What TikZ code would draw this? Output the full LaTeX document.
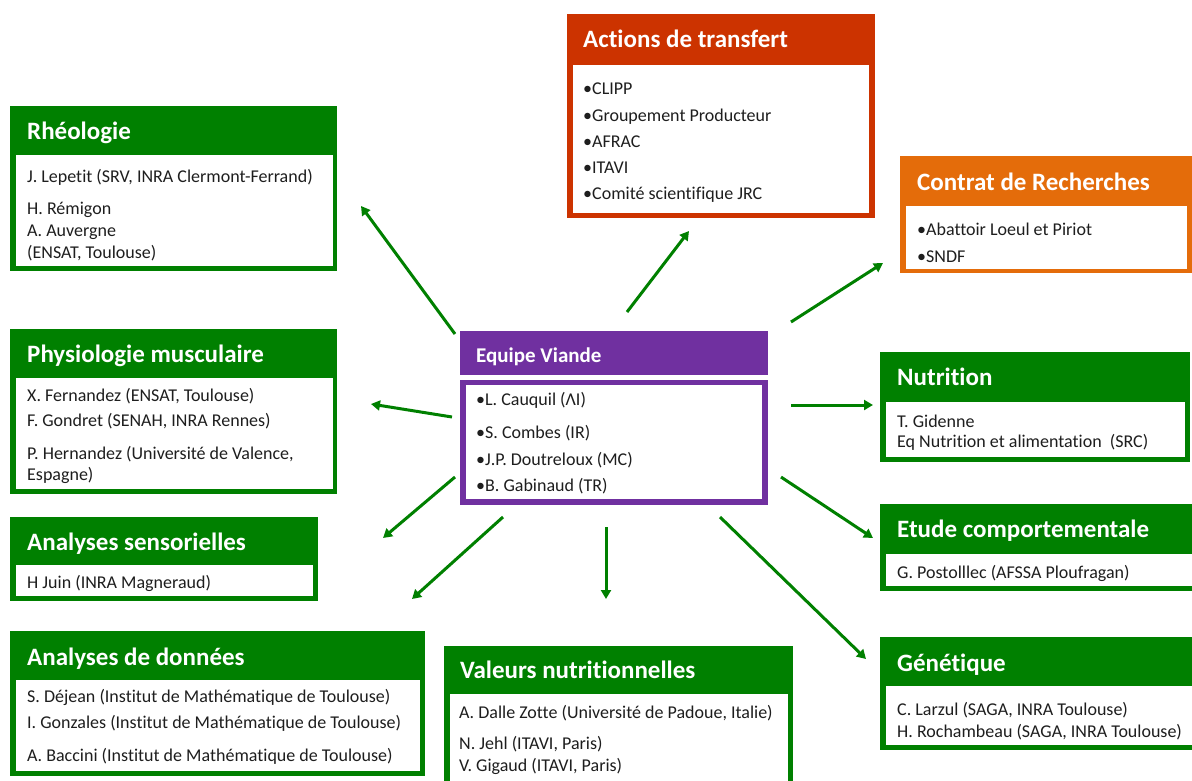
\documentclass[tikz,border=0pt]{standalone}
\usepackage{fontspec}
\setmainfont{Carlito}[Ligatures=NoCommon]
\usetikzlibrary{arrows.meta}
\definecolor{grn}{RGB}{0,128,0}
\definecolor{redo}{RGB}{204,51,0}
\definecolor{ora}{RGB}{228,108,10}
\definecolor{pur}{RGB}{112,48,160}
\definecolor{txt}{RGB}{30,30,30}
\tikzset{
  outerbox/.style={anchor=north west, inner sep=0, outer sep=0, draw=none},
  innerbox/.style={anchor=north west, inner sep=0, outer sep=0, fill=white, draw=none},
  ttl/.style={anchor=west, inner sep=0, text=white, font=\fontsize{25}{29}\selectfont\bfseries, text height=19pt, text depth=3pt},
  ln/.style={anchor=west, inner sep=0, text=txt, font=\fontsize{18}{22}\selectfont, text height=15pt, text depth=2pt},
  arr/.style={draw=grn, line width=3pt, -{Triangle[length=9pt,width=10pt]}}
}
\begin{document}
\begin{tikzpicture}[x=1pt,y=-1pt]
\useasboundingbox (0,0) rectangle (1192,780);
% ---------- Rheologie
\node[outerbox, fill=grn, minimum width=327pt, minimum height=165pt] (rheo) at (10,106) {};
\node[innerbox, minimum width=317pt, minimum height=111pt] (rheoi) at (16,155) {};
\node[ttl] (rheot) at (27,131) {Rhéologie};
\node[ln] (rheo1) at (27,176) {J. Lepetit (SRV, INRA Clermont-Ferrand)};
\node[ln] (rheo2) at (27,208) {H. Rémigon};
\node[ln] (rheo3) at (27,230) {A. Auvergne};
\node[ln] (rheo4) at (27,252) {(ENSAT, Toulouse)};
% ---------- Physiologie
\node[outerbox, fill=grn, minimum width=327pt, minimum height=165pt] (phys) at (10,329) {};
\node[innerbox, minimum width=317pt, minimum height=111pt] (physi) at (16,378) {};
\node[ttl] (physt) at (27,354) {Physiologie musculaire};
\node[ln] (phys1) at (27,395) {X. Fernandez (ENSAT, Toulouse)};
\node[ln] (phys2) at (27,420) {F. Gondret (SENAH, INRA Rennes)};
\node[ln] (phys3) at (27,453) {P. Hernandez (Université de Valence,};
\node[ln] (phys4) at (27,474) {Espagne)};
% ---------- Analyses sensorielles
\node[outerbox, fill=grn, minimum width=308pt, minimum height=84pt] (sens) at (10,517) {};
\node[innerbox, minimum width=297pt, minimum height=31pt] (sensi) at (16,565) {};
\node[ttl] (senst) at (27,542) {Analyses sensorielles};
\node[ln] (sens1) at (27,582) {H Juin (INRA Magneraud)};
% ---------- Analyses de donnees
\node[outerbox, fill=grn, minimum width=415pt, minimum height=145pt] (don) at (10,631) {};
\node[innerbox, minimum width=404pt, minimum height=91pt] (doni) at (16,680) {};
\node[ttl] (dont) at (27,657) {Analyses de données};
\node[ln] (don1) at (27,696) {S. Déjean (Institut de Mathématique de Toulouse)};
\node[ln] (don2) at (27,722) {I. Gonzales (Institut de Mathématique de Toulouse)};
\node[ln] (don3) at (27,755) {A. Baccini (Institut de Mathématique de Toulouse)};
% ---------- Valeurs nutritionnelles
\node[outerbox, fill=grn, minimum width=349pt, minimum height=140pt] (val) at (444,646) {};
\node[innerbox, minimum width=338pt, minimum height=100pt] (vali) at (450,694) {};
\node[ttl] (valt) at (460,670) {Valeurs nutritionnelles};
\node[ln] (val1) at (459,712) {A. Dalle Zotte (Université de Padoue, Italie)};
\node[ln] (val2) at (459,743) {N. Jehl (ITAVI, Paris)};
\node[ln] (val3) at (459,765) {V. Gigaud (ITAVI, Paris)};
% ---------- Genetique
\node[outerbox, fill=grn, minimum width=320pt, minimum height=113pt] (gen) at (880,637) {};
\node[innerbox, minimum width=306pt, minimum height=59pt] (geni) at (886,686) {};
\node[ttl] (gent) at (897,663) {Génétique};
\node[ln] (gen1) at (897,709) {C. Larzul (SAGA, INRA Toulouse)};
\node[ln] (gen2) at (897,731) {H. Rochambeau (SAGA, INRA Toulouse)};
% ---------- Etude comportementale
\node[outerbox, fill=grn, minimum width=320pt, minimum height=87pt] (etu) at (880,504) {};
\node[innerbox, minimum width=306pt, minimum height=32pt] (etui) at (886,554) {};
\node[ttl] (etut) at (897,529) {Etude comportementale};
\node[ln] (etu1) at (897,572) {G. Postolllec (AFSSA Ploufragan)};
% ---------- Nutrition
\node[outerbox, fill=grn, minimum width=310pt, minimum height=110pt] (nut) at (880,352) {};
\node[innerbox, minimum width=299pt, minimum height=55pt] (nuti) at (886,402) {};
\node[ttl] (nutt) at (897,377) {Nutrition};
\node[ln] (nut1) at (897,421) {T. Gidenne};
\node[ln] (nut2) at (897,441) {Eq Nutrition et alimentation~~(SRC)};
% ---------- Contrat de Recherches
\node[outerbox, fill=ora, minimum width=300pt, minimum height=117pt] (con) at (900,156) {};
\node[innerbox, minimum width=281pt, minimum height=63pt] (coni) at (906,206) {};
\node[ttl] (cont) at (917,182) {Contrat de Recherches};
\node[ln] (con1) at (917,229) {•Abattoir Loeul et Piriot};
\node[ln] (con2) at (917,256) {•SNDF};
% ---------- Actions de transfert
\node[outerbox, fill=redo, minimum width=308pt, minimum height=204pt] (act) at (567,14) {};
\node[innerbox, minimum width=296pt, minimum height=148pt] (acti) at (573,65) {};
\node[ttl] (actt) at (583,39) {Actions de transfert};
\node[ln] (act1) at (583,88) {•CLIPP};
\node[ln] (act2) at (583,115) {•Groupement Producteur};
\node[ln] (act3) at (583,141) {•AFRAC};
\node[ln] (act4) at (583,167) {•ITAVI};
\node[ln] (act5) at (583,193) {•Comité scientifique JRC};
% ---------- Equipe Viande
\node[outerbox, fill=pur, minimum width=308pt, minimum height=44pt] (eqt) at (460,331) {};
\node[ttl, font=\fontsize{21}{25}\selectfont\bfseries, text height=19pt, text depth=3pt] (eqtt) at (476,354) {Equipe Viande};
\node[outerbox, fill=pur, minimum width=308pt, minimum height=125pt] (eq) at (460,380) {};
\node[innerbox, minimum width=296pt, minimum height=114pt] (eqi) at (466,385) {};
\node[ln] (eq1) at (476,399) {•L. Cauquil (ΛI)};
\node[ln] (eq2) at (476,432) {•S. Combes (IR)};
\node[ln] (eq3) at (476,459) {•J.P. Doutreloux (MC)};
\node[ln] (eq4) at (476,485) {•B. Gabinaud (TR)};
% ---------- arrow end points
\coordinate (s1) at (455,334); \coordinate (e1) at (361,206);
\coordinate (s2) at (452,417); \coordinate (e2) at (371,404);
\coordinate (s3) at (455,477); \coordinate (e3) at (383,538);
\coordinate (s4) at (503,517); \coordinate (e4) at (412,599);
\coordinate (s5) at (606,527); \coordinate (e5) at (606,599);
\coordinate (s6) at (720,517); \coordinate (e6) at (866,659);
\coordinate (s7) at (781,477); \coordinate (e7) at (873,538);
\coordinate (s8) at (791,405); \coordinate (e8) at (873,405);
\coordinate (s9) at (791,322); \coordinate (e9) at (883,263);
\coordinate (s10) at (627,312); \coordinate (e10) at (689,231);
\foreach \i in {1,...,10} { \draw[arr] (s\i) -- (e\i); }
\end{tikzpicture}
\end{document}
